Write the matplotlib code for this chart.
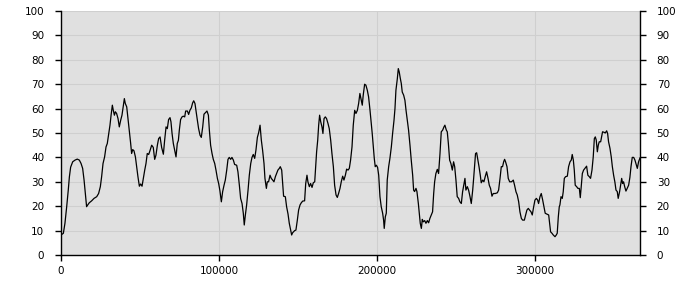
import matplotlib
matplotlib.use("Agg")
import matplotlib.pyplot as plt
import numpy as np

# x positions in thousands, y values (percent), per section
x_s1 = [0, 1.5, 2.5, 3.6, 4.6, 5.3, 6.1, 7.4, 8.9, 10.3, 11.6, 12.7, 13.7, 14.6, 15.4, 16.2, 16.9, 17.9, 19.4, 20.9,
        22.6, 23.8, 24.9, 25.7, 26.6, 27.6, 28.5, 29.3, 30.2, 31.0, 31.7, 32.5, 33.1, 33.8, 34.4, 35.2, 36.1, 36.9, 37.8, 38.6,
        39.5, 40.1, 40.7, 41.6, 42.4, 43.3, 44.1, 44.7, 45.4, 46.2, 47.1, 47.9, 48.7, 49.6, 50.4, 51.3, 52.1, 53.0, 53.8, 54.6,
        55.5, 56.3, 57.4, 58.4, 59.3, 60.1, 61.0, 61.8, 62.7]
y_s1 = [8.2, 8.9, 13, 19.8, 26.6, 32, 36, 38.2, 38.9, 39.3, 38.9, 37.5, 35.5, 30.7, 25.2, 19.8, 20.5, 21.4, 22.2, 23.2,
        23.9, 25.2, 28, 32, 37.5, 40.2, 44.3, 45.7, 49.8, 53.2, 57.3, 61.4, 59.3, 57.3, 58.7, 58, 55.9, 52.5, 55.3, 57.3,
        61.4, 64.1, 62.1, 60.7, 55.9, 50.5, 45.7, 41.6, 43.2, 42.7, 40.2, 36.2, 32.1, 28.2, 29.1, 28.2, 31.4, 34.8, 37.5, 41.6,
        41.2, 42.7, 45, 44.1, 39.2, 40.9, 45, 47.7, 48.4]

x_s2 = [63.7, 64.8, 65.6, 66.5, 67.3, 68.1, 69.0, 69.6, 70.3, 71.1, 71.9, 72.8, 73.6, 74.3, 74.9, 75.7, 76.6, 77.4, 78.3, 78.9,
        80.0, 80.8, 81.6, 82.5, 83.3, 84.0, 84.8, 85.4, 86.3, 87.1, 88.0, 88.8, 89.7, 90.5, 91.4, 92.4, 93.3, 93.9, 94.7, 95.6,
        96.4, 97.3, 98.1, 99.0, 99.8, 100.6, 101.5, 102.3, 103.2, 104.0, 104.9, 105.7, 106.5, 107.4, 108.2, 109.1, 109.9, 111.2, 112.0, 112.9,
        113.7, 114.6, 115.4, 116.0, 116.7, 117.5, 118.4, 119.2, 120.1, 120.9, 121.7, 122.6, 123.4, 124.3, 125.1, 126.0]
y_s2 = [44.1, 41.3, 47, 52.5, 51.8, 55.5, 56.3, 54.6, 49.8, 45.7, 43, 40.2, 45.7, 47, 51.2, 55.5, 56.6, 56.9, 56.6, 59,
        59, 57.6, 59.3, 60.3, 62.3, 63.2, 62.1, 59.3, 55.3, 51.8, 49.1, 48.2, 52.5, 57.7, 58.3, 59, 57.3, 51.2, 45, 41.6,
        39.2, 37.5, 34.8, 31.4, 29.3, 26.3, 21.8, 25.9, 28.6, 30.7, 34.8, 39.2, 40, 39.2, 40, 38.9, 37.1, 36.8, 34.1, 28.6,
        23.2, 21.1, 17.1, 12.3, 16.4, 20.5, 26.6, 32.7, 37.5, 40, 41.2, 39.6, 43, 48.2, 50.1, 53.2]

x_s3 = [126.8, 127.6, 128.5, 129.1, 130.0, 130.6, 131.4, 132.3, 133.1, 134.0, 134.8, 135.7, 136.5, 137.3, 138.2, 138.8, 139.7, 140.3, 140.9, 142.0,
        142.8, 143.7, 144.5, 145.4, 146.0, 146.6, 147.9, 148.7, 149.6, 150.4, 151.3, 152.1, 153.0, 154.2, 154.9, 155.7, 156.3, 157.2, 158.0, 158.9,
        159.7, 160.6, 161.2, 161.8, 162.5, 163.1, 163.7, 164.4, 165.2, 165.8, 166.5, 167.3, 168.1, 169.0, 169.8, 170.7, 171.5, 172.4, 173.2, 174.1,
        174.9, 175.7, 176.6, 177.4, 178.3, 179.1, 180.0, 180.8, 181.7, 182.5, 183.3, 184.2, 185.0, 185.9, 186.7, 187.6, 188.4, 189.2]
y_s3 = [47.1, 43, 37.5, 31.4, 27.3, 30, 30, 32.7, 31.4, 30.7, 30, 32.1, 33.4, 34.8, 35.5, 36.2, 34.8, 29.3, 24.1, 23.9,
        19.8, 16.8, 13, 10.2, 8.2, 9.1, 10, 10.2, 14.3, 18.4, 20.5, 21.4, 22.1, 22.2, 29.3, 32.7, 30, 28, 29.3, 27.7,
        29.6, 30, 36.2, 42.3, 47.1, 53.2, 57.3, 54.6, 52.5, 49.8, 55.9, 56.6, 55.9, 53.9, 51.8, 47.1, 41.6, 36.2, 28.6, 24.6,
        23.6, 25.2, 27.3, 30, 32.3, 30.7, 32.7, 35.2, 34.8, 35.5, 38.9, 44.3, 53.2, 59.3, 58, 59.3, 62.1, 66.2]

x_s4 = [190.1, 190.7, 191.3, 192.2, 193.0, 193.9, 194.7, 195.6, 196.4, 197.0, 197.7, 198.3, 198.9, 199.6, 200.4, 201.1, 201.9, 202.7, 203.6, 204.2,
        204.6, 205.3, 205.9, 206.5, 207.4, 208.2, 209.1, 209.9, 210.8, 211.4, 212.0, 212.9, 213.5, 214.1, 214.8, 215.4, 216.0, 216.9, 217.7, 218.4,
        219.2, 220.0, 220.9, 221.7, 222.6, 223.2, 223.8, 224.7, 225.3, 226.2, 226.8, 227.4, 228.1, 228.7, 229.3, 230.2, 231.0, 231.9, 232.7, 233.5,
        234.4, 235.2, 235.9, 236.5, 237.3, 238.2, 239.0, 239.9, 240.7, 241.6, 242.4, 243.0, 243.9, 244.5, 245.2, 246.0, 246.8, 247.7, 248.5, 249.2,
        250.0, 250.8, 251.7, 252.5]
y_s4 = [63.4, 61.4, 65.5, 70, 69.6, 67.5, 64.8, 59.3, 53.9, 49.8, 44.3, 39.6, 36.2, 36.8, 35.9, 32.7, 23.9, 19.8, 17.1, 14.3,
        10.9, 15.7, 17.1, 30.7, 36.2, 39.6, 44.3, 49.8, 55.3, 60, 67.5, 72.3, 76.4, 75, 72.3, 70.3, 66.8, 65.5, 63.4, 59.3,
        55.3, 51.2, 45, 38.9, 32.7, 26.6, 26, 27.3, 26, 21.1, 17.1, 13, 10.9, 14.6, 13.6, 14.1, 13, 14.1, 13.2, 15,
        16.4, 17.7, 25.2, 30, 33.4, 35.1, 33.4, 41.6, 50.5, 51.2, 52.5, 53.2, 51.2, 50.5, 45.7, 38.9, 37.5, 34.8, 38.2, 36.2,
        30.7, 23.9, 23.2, 21.8]

x_s5 = [253.4, 254.2, 255.1, 255.7, 256.3, 257.2, 258.0, 258.9, 259.7, 260.6, 261.2, 261.8, 262.4, 263.1, 263.7, 264.6, 265.4, 266.0, 266.9, 267.7,
        268.6, 269.4, 270.3, 271.1, 271.9, 272.8, 273.6, 274.9, 276.2, 277.0, 277.9, 278.7, 279.5, 280.2, 280.8, 281.4, 282.3, 283.1, 284.0, 285.2,
        286.3, 287.1, 288.0, 288.8, 289.7, 290.5, 291.4, 292.2, 293.3, 294.1, 294.9, 295.8, 296.6, 297.5, 298.3, 299.2, 300.0, 300.9, 301.7, 302.3,
        303.2, 304.0, 304.9, 305.7, 306.5, 307.4, 308.7, 309.3, 309.9, 310.8, 311.6, 312.7, 313.5, 314.1, 314.8, 315.4, 315.8]
y_s5 = [21.1, 25.9, 29.3, 31.4, 26.6, 28, 26.6, 23.9, 21.1, 26.6, 31.4, 36.8, 41.6, 41.9, 39.6, 36.2, 32.7, 29.6, 30.7, 30,
        32.3, 34.1, 31.4, 28.6, 27.3, 24.1, 25.2, 25.2, 25.5, 26.6, 31.4, 36.2, 36.2, 38.2, 39.2, 38.2, 36.2, 31.4, 30, 30,
        30.7, 28.6, 25.9, 24.6, 21.8, 17.7, 15, 14.3, 14.3, 16.4, 18.4, 19.1, 18.4, 17.7, 16.4, 19.8, 22.5, 23.2, 22.5, 21.1,
        23.9, 25.2, 22.5, 19.8, 17.1, 16.8, 16.4, 13, 9.5, 8.9, 8.2, 7.5, 8.2, 8.9, 15.7, 19.8, 20.5]

x_s6 = [316.5, 317.3, 317.9, 318.6, 319.4, 320.5, 321.3, 322.2, 323.0, 323.6, 324.3, 324.9, 325.5, 326.4, 327.2, 328.1, 328.7, 329.3, 330.0, 330.8,
        331.6, 332.7, 333.5, 334.4, 335.2, 336.1, 336.9, 337.6, 338.2, 338.8, 339.5, 340.1, 340.7, 341.6, 342.2, 342.8, 343.7, 344.5, 345.4, 346.0,
        346.6, 347.5, 348.3, 349.0, 349.8, 350.6, 351.3, 352.1, 352.7, 353.6, 354.2, 354.9, 355.5, 356.1, 356.8, 357.6, 358.4, 359.3, 360.1, 360.8,
        361.6, 362.5, 363.3, 364.1, 364.8, 365.6, 366.5]
y_s6 = [23.9, 23.2, 25.9, 31.4, 32.1, 32.3, 36.2, 38.2, 38.9, 41.2, 38.9, 34.8, 28.6, 28, 27.3, 27.3, 23.5, 28, 33.4, 34.8,
        35.5, 36.4, 32.7, 32.1, 31.4, 34.8, 40.2, 47.7, 48.4, 47.1, 42.3, 45, 46.4, 46.4, 48.4, 50.5, 50.3, 50, 50.9, 49.8,
        46.4, 43.7, 40.2, 36.2, 32.7, 29.9, 26.6, 26, 23.2, 26, 28.6, 31.4, 29.3, 30, 28, 26.2, 27.3, 28.6, 31.8, 36.2,
        40, 40, 38.9, 37.1, 35.5, 38.2, 39.8]

y_ticks = [0, 10, 20, 30, 40, 50, 60, 70, 80, 90, 100]
x_ticks = [0, 100000, 200000, 300000]

xs = np.concatenate([x_s1, x_s2, x_s3, x_s4, x_s5, x_s6]) * 1000
ys = np.concatenate([y_s1, y_s2, y_s3, y_s4, y_s5, y_s6])

fig = plt.figure(figsize=(7, 3), dpi=100)
ax = fig.add_axes([61 / 700, 45 / 300, 579 / 700, 244 / 300])
ax.set_facecolor("#e0e0e0")
ax.plot(xs, ys, color="black", linewidth=0.9)

ax.set_xlim(0, 366500)
ax.set_ylim(0, 100)
ax.set_yticks(y_ticks)
ax.set_yticklabels([str(v) for v in y_ticks])
ax.set_xticks(x_ticks)
ax.set_xticklabels([str(v) for v in x_ticks])
ax.grid(True, color="#cfcfcf", linewidth=0.8)
ax.set_axisbelow(True)

for s in ["left", "right", "bottom"]:
    ax.spines[s].set_color("black")
    ax.spines[s].set_linewidth(1.0)
ax.spines["top"].set_visible(False)

ax.tick_params(axis="y", which="both", left=True, right=True, labelleft=True, labelright=True,
               direction="out", length=4, width=1, labelsize=7.5, pad=8)
ax.tick_params(axis="x", direction="out", length=4, width=1, labelsize=7.5, pad=4)

fig.savefig("out.png", dpi=100, facecolor="white")
